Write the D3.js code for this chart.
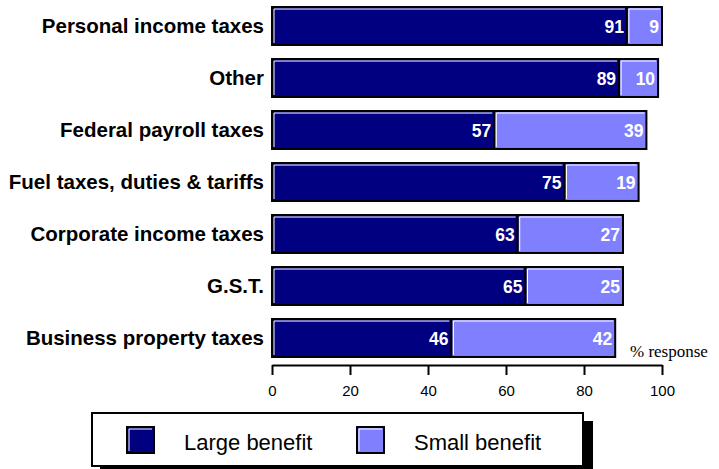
<!DOCTYPE html>
<html>
<head>
<meta charset="utf-8">
<script src="https://cdn.jsdelivr.net/npm/d3@7"></script>
<style>
  html, body { margin: 0; padding: 0; background: #fff; }
  svg { display: block; }
</style>
</head>
<body>
<svg id="chart" width="719" height="469"></svg>
<script>
// Survey results: perceived benefit from tax cuts
const categories = [
  "Personal income taxes",
  "Other",
  "Federal payroll taxes",
  "Fuel taxes, duties & tariffs",
  "Corporate income taxes",
  "G.S.T.",
  "Business property taxes"
];
const largeBenefit = [91, 89, 57, 75, 63, 65, 46];
const smallBenefit = [9, 10, 39, 19, 27, 25, 42];
const seriesNames = ["Large benefit", "Small benefit"];
const seriesColors = ["#000080", "#8080ff"];
const xTicks = [0, 20, 40, 60, 80, 100];

const svg = d3.select("#chart");

const x = d3.scaleLinear().domain([0, 100]).range([272, 662]);
const y = d3.scaleBand().domain(categories).range([0, 364])
  .paddingInner(0.27).paddingOuter(0.135);

const rows = categories.map((c, i) => ({
  cat: c,
  segs: [
    { key: 0, v0: 0, v1: largeBenefit[i], val: largeBenefit[i] },
    { key: 1, v0: largeBenefit[i], v1: largeBenefit[i] + smallBenefit[i], val: smallBenefit[i] }
  ]
}));

// bevelled box: black outline with a white highlight on the top and left
function bevelBox(g, x0, y0, w, h, fill) {
  g.append("rect")
    .attr("x", x0).attr("y", y0).attr("width", w).attr("height", h)
    .attr("fill", fill).attr("stroke", "#000").attr("stroke-width", 2);
  g.append("path")
    .attr("d", `M${x0 + 2},${y0 + h - 2}V${y0 + 2}H${x0 + w - 2}`)
    .attr("fill", "none").attr("stroke", "#fff").attr("stroke-width", 1);
}

const rowG = svg.append("g").selectAll("g.row").data(rows).join("g").attr("class", "row");

rowG.each(function (d) {
  const g = d3.select(this);
  const top = y(d.cat), h = y.bandwidth();
  d.segs.forEach(s => {
    bevelBox(g, x(s.v0), top, x(s.v1) - x(s.v0), h, seriesColors[s.key]);
  });
  d.segs.forEach(s => {
    g.append("text")
      .attr("x", x(s.v1) - 3)
      .attr("y", top + h / 2 + 6.5)
      .attr("text-anchor", "end")
      .attr("fill", "#fff")
      .attr("font-family", "'Liberation Sans', Arial, sans-serif")
      .attr("font-weight", "bold")
      .attr("font-size", 17.5)
      .text(s.val);
  });
  g.append("text")
    .attr("x", 264)
    .attr("y", top + h / 2 + 7)
    .attr("text-anchor", "end")
    .attr("fill", "#000")
    .attr("font-family", "'Liberation Sans', Arial, sans-serif")
    .attr("font-weight", "bold")
    .attr("font-size", 20.5)
    .text(d.cat);
});

// x axis below the bars
const axis = d3.axisBottom(x).tickValues(xTicks).tickSize(10).tickPadding(10).tickSizeOuter(0);
const axG = svg.append("g").attr("transform", "translate(0,365)").call(axis);
axG.select(".domain").attr("stroke", "#000").attr("stroke-width", 2);
axG.selectAll(".tick line").attr("stroke", "#000").attr("stroke-width", 2);
axG.selectAll(".tick text")
  .attr("font-family", "'Liberation Sans', Arial, sans-serif")
  .attr("font-size", 15).attr("fill", "#000");

svg.append("text")
  .attr("x", 630).attr("y", 357)
  .attr("font-family", "'Liberation Serif', 'Times New Roman', serif")
  .attr("font-size", 17)
  .text("% response");

// legend with drop shadow
const lg = svg.append("g");
lg.append("rect").attr("x", 100).attr("y", 421).attr("width", 493).attr("height", 60).attr("fill", "#000");
lg.append("rect").attr("x", 92).attr("y", 413).attr("width", 491).attr("height", 53)
  .attr("fill", "#fff").attr("stroke", "#000").attr("stroke-width", 2);
const legendX = [127, 357];
seriesNames.forEach((name, i) => {
  bevelBox(lg, legendX[i], 427, 27, 26, seriesColors[i]);
  lg.append("text")
    .attr("x", legendX[i] + 57).attr("y", 450)
    .attr("font-family", "'Liberation Sans', Arial, sans-serif")
    .attr("font-size", 22)
    .text(name);
});
</script>
</body>
</html>
